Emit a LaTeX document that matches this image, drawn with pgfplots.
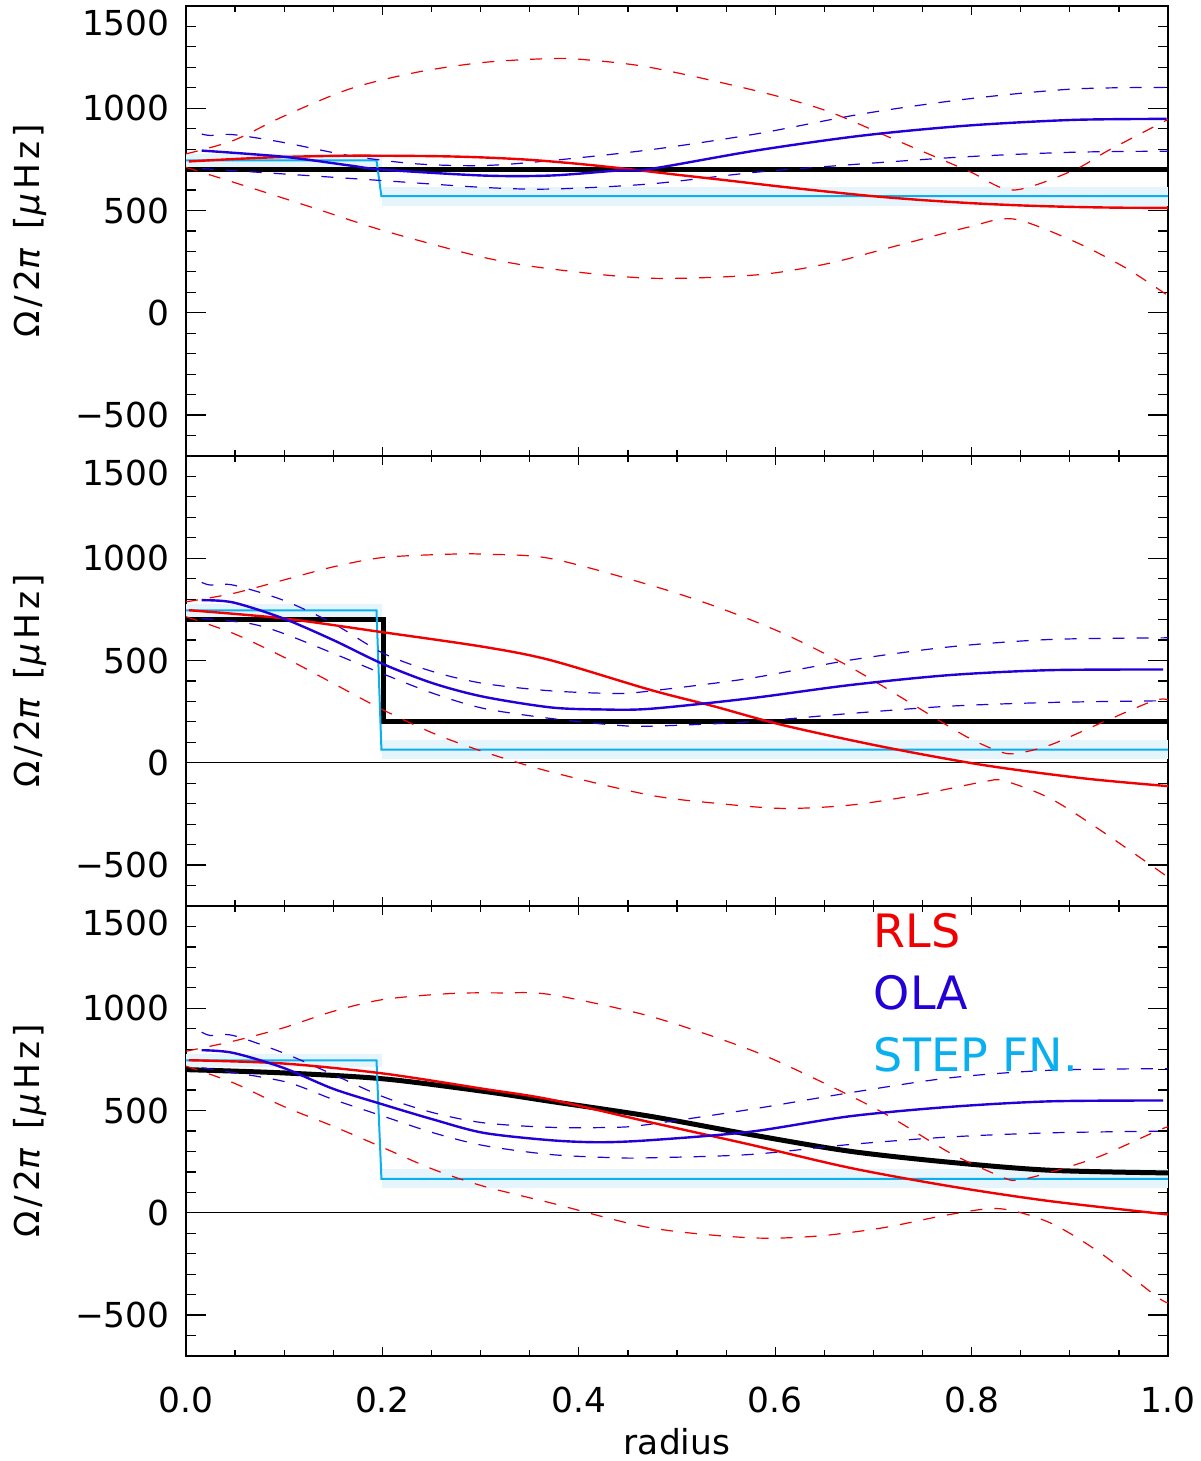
\documentclass[border=0pt]{standalone}
\usepackage{fontspec}
\setmainfont{DejaVu Sans}
\newfontfamily\ylabfont[LetterSpace=12]{DejaVu Sans}
\usepackage{pgfplots}
\pgfplotsset{compat=1.18}
\definecolor{rlsred}{RGB}{240,0,0}
\definecolor{olablue}{RGB}{35,0,215}
\definecolor{stepcyan}{RGB}{10,175,240}
\definecolor{bandc}{RGB}{230,245,252}
\tikzset{
 rls/.style={rlsred, line width=1.2pt, smooth},
 rlse/.style={rlsred, line width=0.6pt, dash pattern=on 6pt off 6pt, smooth},
 ola/.style={olablue, line width=1.2pt, smooth},
 olae/.style={olablue, line width=0.6pt, dash pattern=on 6pt off 6pt, smooth},
 stepf/.style={stepcyan, line width=1pt},
 model/.style={black, line width=2.5pt},
}
\pgfplotsset{
  panel/.style={
    scale only axis, width=491pt, height=225pt,
    xmin=0, xmax=1, ymin=-700, ymax=1500,
    xtick={0,0.2,0.4,0.6,0.8,1},
    minor xtick={0.05,0.1,0.15,0.25,0.3,0.35,0.45,0.5,0.55,0.65,0.7,0.75,0.85,0.9,0.95},
    ytick={-500,0,500,1000},
    yticklabels={−500,0,500,1000},
    extra y ticks={1500},
    extra y tick labels={1500},
    extra y tick style={yticklabel style={anchor=north east, yshift=-2pt}},
    minor ytick={-600,-400,-300,-200,-100,100,200,300,400,600,700,800,900,1100,1200,1300,1400},
    tick align=inside,
    xtick pos=both, ytick pos=both,
    xticklabel pos=lower, yticklabel pos=left,
    axis line style={line width=0.6pt},
    every tick/.style={black, line width=0.6pt},
    xtick style={/pgfplots/major tick length=4.7pt, /pgfplots/minor tick length=3pt},
    ytick style={/pgfplots/major tick length=10pt, /pgfplots/minor tick length=5pt},
    tick label style={font=\fontsize{17.2}{20}\selectfont, inner sep=0pt},
    xticklabel style={anchor=north, yshift=-15.5pt},
    yticklabel style={anchor=east, xshift=-8pt},
    ylabel={\ylabfont Ω/2\textit{π} [\textit{μ}Hz]},
    ylabel style={at={(axis description cs:-0.1589,0.5)}, anchor=center, font=\fontsize{17.2}{20}\selectfont, inner sep=0pt},
    clip=true,
  }
}
\begin{document}
\begin{tikzpicture}
\path[use as bounding box] (0,0) rectangle (600pt,730.5pt);

% ---------------- Panel 1 ----------------
\begin{axis}[panel, at={(93pt,502.5pt)}, anchor=south west, xticklabels={}]
\addplot[fill=bandc, draw=none] coordinates {(0,715) (0.2,715) (0.2,775) (0,775)} -- cycle;
\addplot[fill=bandc, draw=none] coordinates {(0.2,523) (1,523) (1,617) (0.2,617)} -- cycle;
\addplot[model] coordinates {(0,700) (1,700)};
\addplot[stepf] coordinates {(0,745) (0.194,745) (0.199,570) (1,570)};
\addplot[rlse] coordinates {(0,777) (0.048,842) (0.099,960) (0.167,1095) (0.235,1176) (0.303,1224) (0.371,1243) (0.405,1238) (0.4725,1200) (0.58,1086) (0.652,988) (0.724,842) (0.796,695) (0.842,600) (0.903,695) (0.939,793) (1.0,945)};
\addplot[rlse] coordinates {(0,711) (0.065,613) (0.133,508) (0.201,402) (0.303,271) (0.371,215) (0.4725,169) (0.58,185) (0.652,239) (0.724,328) (0.796,418) (0.842,459) (0.903,352) (0.956,222) (1.0,84)};
\addplot[olae] coordinates {(0.016,874) (0.025,867) (0.048,871) (0.099,833) (0.167,768) (0.235,728) (0.303,720) (0.371,744) (0.4725,797) (0.58,874) (0.688,972) (0.795,1045) (0.903,1094) (1.0,1102)};
\addplot[olae] coordinates {(0.016,705) (0.099,679) (0.201,646) (0.303,613) (0.371,605) (0.4725,630) (0.58,687) (0.688,728) (0.795,763) (0.903,785) (1.0,790)};
\addplot[rls] coordinates {(0.003,740) (0.05,752) (0.1,762) (0.167,768) (0.25,766) (0.3,760) (0.35,748) (0.4,728) (0.45,703) (0.5,675) (0.55,648) (0.6,620) (0.65,594) (0.7,570) (0.75,551) (0.8,536) (0.85,525) (0.9,518) (0.95,514) (1.0,513)};
\addplot[ola] coordinates {(0.016,793) (0.099,763) (0.167,720) (0.2,700) (0.303,671) (0.371,671) (0.438,695) (0.4725,703) (0.58,793) (0.688,866) (0.795,915) (0.903,943) (0.9986,948)};
\end{axis}

% ---------------- Panel 2 ----------------
\begin{axis}[panel, at={(93pt,277.5pt)}, anchor=south west, xticklabels={}]
\addplot[fill=bandc, draw=none] coordinates {(0,715) (0.2,715) (0.2,775) (0,775)} -- cycle;
\addplot[fill=bandc, draw=none] coordinates {(0.2,18) (1,18) (1,112) (0.2,112)} -- cycle;
\addplot[black, line width=0.5pt] coordinates {(0,0) (1,0)};
\addplot[model] coordinates {(0,700) (0.201,700) (0.201,200) (1,200)};
\addplot[stepf] coordinates {(0,745) (0.194,745) (0.199,65) (1,65)};
\addplot[rlse] coordinates {(0,787) (0.048,828) (0.099,893) (0.150,958) (0.201,1004) (0.269,1020) (0.303,1020) (0.371,999) (0.4725,869) (0.540,763) (0.608,633) (0.676,469) (0.744,274) (0.795,127) (0.829,54) (0.846,46) (0.88,87) (0.931,193) (0.985,303) (1.0,308)};
\addplot[rlse] coordinates {(0,714) (0.048,633) (0.099,518) (0.150,388) (0.201,258) (0.252,144) (0.303,54) (0.371,-44) (0.4725,-158) (0.540,-198) (0.608,-223) (0.676,-207) (0.744,-158) (0.812,-93) (0.833,-88) (0.88,-174) (0.931,-329) (0.997,-549)};
\addplot[olae] coordinates {(0.016,882) (0.025,869) (0.048,869) (0.099,795) (0.150,681) (0.201,535) (0.252,445) (0.303,388) (0.371,352) (0.438,339) (0.4725,351) (0.574,413) (0.676,502) (0.778,567) (0.88,603) (1.0,611)};
\addplot[olae] coordinates {(0.016,706) (0.065,681) (0.099,633) (0.150,535) (0.201,434) (0.252,339) (0.303,266) (0.371,217) (0.438,184) (0.4725,179) (0.574,200) (0.676,241) (0.778,277) (0.88,295) (0.99,303)};
\addplot[rls] coordinates {(0.003,746) (0.099,706) (0.198,640) (0.303,567) (0.371,502) (0.4725,357) (0.537,277) (0.608,184) (0.710,78) (0.812,-11) (0.914,-76) (1.0,-114)};
\addplot[ola] coordinates {(0.016,795) (0.048,784) (0.099,706) (0.150,600) (0.201,482) (0.252,388) (0.303,323) (0.371,271) (0.421,261) (0.4725,264) (0.574,315) (0.676,380) (0.778,429) (0.88,453) (0.995,456)};
\end{axis}

% ---------------- Panel 3 ----------------
\begin{axis}[panel, at={(93pt,52.5pt)}, anchor=south west,
  xticklabels={0.0,0.2,0.4,0.6,0.8,1.0},
  xlabel={radius},
  xlabel style={at={(axis description cs:0.5,0)}, anchor=north, inner sep=0pt, yshift=-36pt, font=\fontsize{17.2}{20}\selectfont}]
\addplot[fill=bandc, draw=none] coordinates {(0,715) (0.2,715) (0.2,775) (0,775)} -- cycle;
\addplot[fill=bandc, draw=none] coordinates {(0.2,119) (1,119) (1,213) (0.2,213)} -- cycle;
\addplot[black, line width=0.5pt] coordinates {(0,0) (1,0)};
\addplot[model, smooth] coordinates {(0,700) (0.099,684) (0.201,655) (0.303,594) (0.371,545) (0.4725,472) (0.574,383) (0.676,301) (0.778,247) (0.88,208) (1.0,195)};
\addplot[stepf] coordinates {(0,745) (0.194,745) (0.199,166) (1,166)};
\addplot[rlse] coordinates {(0,790) (0.048,839) (0.099,904) (0.150,985) (0.201,1043) (0.269,1072) (0.320,1075) (0.371,1067) (0.4725,961) (0.574,798) (0.642,652) (0.710,489) (0.778,293) (0.829,179) (0.846,159) (0.88,198) (0.931,277) (0.988,399) (1.0,420)};
\addplot[rlse] coordinates {(0,717) (0.048,636) (0.099,521) (0.150,423) (0.201,318) (0.252,212) (0.303,130) (0.371,49) (0.4725,-73) (0.574,-122) (0.642,-114) (0.710,-73) (0.778,-8) (0.829,20) (0.88,-49) (0.931,-196) (0.988,-408) (1.0,-440)};
\addplot[olae] coordinates {(0.016,883) (0.025,867) (0.048,867) (0.099,782) (0.150,676) (0.201,567) (0.252,489) (0.303,440) (0.371,418) (0.438,418) (0.4725,433) (0.574,505) (0.676,587) (0.778,660) (0.88,697) (1.0,705)};
\addplot[olae] coordinates {(0.016,709) (0.099,643) (0.150,554) (0.201,472) (0.252,391) (0.303,329) (0.371,285) (0.438,269) (0.4725,269) (0.574,285) (0.676,334) (0.778,371) (0.88,391) (0.99,399)};
\addplot[rls] coordinates {(0.003,746) (0.099,730) (0.201,681) (0.303,606) (0.371,554) (0.4725,443) (0.574,334) (0.676,220) (0.778,130) (0.88,57) (1.0,-8)};
\addplot[ola] coordinates {(0.016,795) (0.048,782) (0.099,709) (0.150,606) (0.201,529) (0.252,456) (0.303,391) (0.371,355) (0.421,345) (0.4725,355) (0.574,396) (0.676,472) (0.778,518) (0.88,545) (0.995,549)};
\node[anchor=base west, inner sep=0pt, text=rlsred, font=\fontsize{23}{26}\selectfont] at (axis cs:0.70,1297) {RLS};
\node[anchor=base west, inner sep=0pt, text=olablue, font=\fontsize{23}{26}\selectfont] at (axis cs:0.70,993) {OLA};
\node[anchor=base west, inner sep=0pt, text=stepcyan, font=\fontsize{23}{26}\selectfont] at (axis cs:0.70,690) {STEP FN.};
\end{axis}
\end{tikzpicture}
\end{document}
